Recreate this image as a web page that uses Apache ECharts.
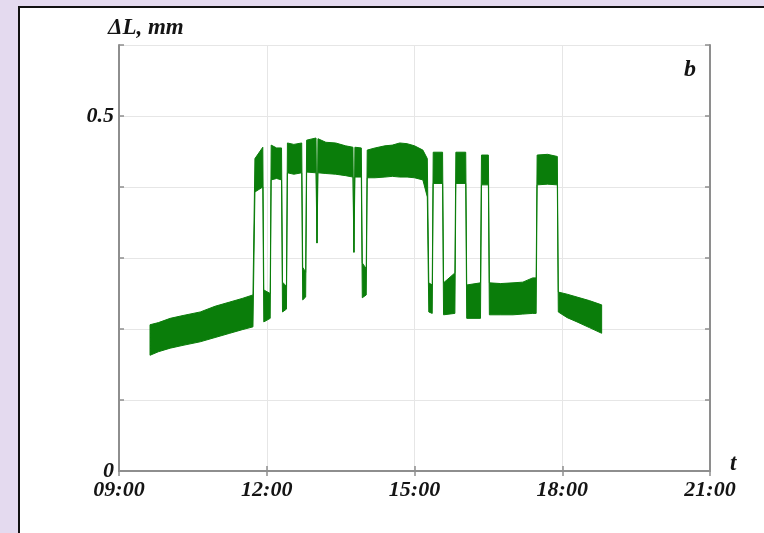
<!DOCTYPE html>
<html><head><meta charset="utf-8">
<script src="https://cdn.jsdelivr.net/npm/echarts@6/dist/echarts.min.js"></script>
<style>
html,body{margin:0;padding:0;width:764px;height:533px;overflow:hidden;background:#e4daef;}
#frame{position:absolute;left:18px;top:6px;width:744px;height:525px;background:#fff;border-top:2px solid #111;border-left:2px solid #111;}
#chart{width:744px;height:525px;}
</style></head><body><div id="frame"><div id="chart"></div></div>
<script>
// time in hours
const times = [
  9.63, 9.80, 10.04, 10.30, 10.65, 10.95, 11.25, 11.50, 11.72,
  11.76, 11.92,
  11.94, 12.07,
  12.09, 12.20, 12.30,
  12.32, 12.40,
  12.42, 12.55, 12.71,
  12.73, 12.79,
  12.81, 13.00, 13.02, 13.04, 13.20, 13.40, 13.60, 13.75, 13.77, 13.79, 13.92,
  13.94, 14.02,
  14.04, 14.20, 14.40, 14.55, 14.70, 14.85, 15.00, 15.17, 15.26,
  15.29, 15.36,
  15.38, 15.57,
  15.59, 15.82,
  15.84, 16.04,
  16.06, 16.34,
  16.36, 16.50,
  16.52, 16.75, 17.00, 17.20, 17.40, 17.47,
  17.49, 17.70, 17.90,
  17.92, 18.10, 18.30, 18.55, 18.80
];
// upper envelope of the signal, mm
const upper = [
  0.206, 0.209, 0.215, 0.219, 0.224, 0.232, 0.238, 0.243, 0.248,
  0.440, 0.456,
  0.255, 0.250,
  0.459, 0.455, 0.455,
  0.266, 0.260,
  0.462, 0.460, 0.462,
  0.287, 0.280,
  0.466, 0.469, 0.321, 0.468, 0.463, 0.462, 0.458, 0.456, 0.308, 0.456, 0.455,
  0.293, 0.285,
  0.452, 0.455, 0.458, 0.459, 0.462, 0.461, 0.458, 0.452, 0.440,
  0.265, 0.262,
  0.449, 0.449,
  0.265, 0.279,
  0.449, 0.449,
  0.262, 0.265,
  0.445, 0.445,
  0.265, 0.264, 0.265, 0.266, 0.272, 0.272,
  0.445, 0.446, 0.443,
  0.252, 0.249, 0.245, 0.240, 0.234
];
// lower envelope of the signal, mm
const lower = [
  0.163, 0.168, 0.173, 0.177, 0.182, 0.188, 0.194, 0.199, 0.203,
  0.393, 0.400,
  0.210, 0.215,
  0.410, 0.412, 0.410,
  0.224, 0.228,
  0.420, 0.418, 0.420,
  0.241, 0.245,
  0.421, 0.420, 0.321, 0.420, 0.419, 0.418, 0.416, 0.414, 0.308, 0.414, 0.414,
  0.244, 0.248,
  0.413, 0.413, 0.414, 0.415, 0.414, 0.414, 0.413, 0.410, 0.386,
  0.224, 0.222,
  0.405, 0.405,
  0.220, 0.222,
  0.405, 0.405,
  0.215, 0.215,
  0.403, 0.403,
  0.220, 0.220, 0.220, 0.221, 0.222, 0.222,
  0.403, 0.404, 0.403,
  0.224, 0.216, 0.210, 0.202, 0.194
];
const xTicks = [9, 12, 15, 18, 21];
const yShownLabels = [0, 0.5];

const green = '#0a7d0a';

const font = {fontFamily: 'Liberation Serif', fontStyle: 'italic', fontWeight: 'bold', color: '#141414'};
const frameLine = {show: true, lineStyle: {color: '#8e8e8e', width: 2}};
const tick = {show: true, inside: true, length: 5, lineStyle: {color: '#8e8e8e', width: 1.5}};
const split = {show: true, lineStyle: {color: '#e6e6e6', width: 1}};

function renderBand(params, api) {
  if (params.dataIndex !== 0) return null;
  const pts = [];
  for (let i = 0; i < times.length; i++) pts.push(api.coord([times[i], upper[i]]));
  for (let i = times.length - 1; i >= 0; i--) pts.push(api.coord([times[i], lower[i]]));
  return {
    type: 'polygon',
    shape: {points: pts},
    style: {fill: green, stroke: green, lineWidth: 1, lineJoin: 'miter'}
  };
}

const chart = echarts.init(document.getElementById('chart'));
chart.setOption({
  animation: false,
  grid: {left: 99, top: 37, right: 54, bottom: 62, containLabel: false},
  xAxis: [
    {type: 'value', min: 9, max: 21, interval: 3, position: 'bottom',
     axisLine: frameLine, axisTick: tick, splitLine: split,
     axisLabel: Object.assign({fontSize: 22, margin: 8,
       formatter: v => (xTicks.includes(v) ? String(v).padStart(2, '0') + ':00' : '')}, font)},
    {type: 'value', min: 9, max: 21, interval: 3, position: 'top',
     axisLine: frameLine, axisTick: tick, splitLine: {show: false}, axisLabel: {show: false}}
  ],
  yAxis: [
    {type: 'value', min: 0, max: 0.6, interval: 0.1, position: 'left',
     axisLine: frameLine, axisTick: tick, splitLine: split,
     axisLabel: Object.assign({fontSize: 22, margin: 5,
       formatter: v => {const r = Math.round(v * 10) / 10; return yShownLabels.includes(r) ? String(r) : '';}}, font)},
    {type: 'value', min: 0, max: 0.6, interval: 0.1, position: 'right',
     axisLine: frameLine, axisTick: tick, splitLine: {show: false}, axisLabel: {show: false}}
  ],
  series: [
    {type: 'custom', renderItem: renderBand, data: [[times[0], lower[0]]],
     xAxisIndex: 0, yAxisIndex: 0, z: 3, silent: true}
  ],
  graphic: [
    {type: 'text', left: 88, top: 9, style: Object.assign({text: 'ΔL, mm', fontSize: 23, fill: '#141414'}, font)},
    {type: 'text', left: 710, top: 445, style: Object.assign({text: 't', fontSize: 23, fill: '#141414'}, font)},
    {type: 'text', left: 664, top: 50, style: Object.assign({text: 'b', fontSize: 24, fill: '#141414'}, font)}
  ]
});
</script></body></html>
